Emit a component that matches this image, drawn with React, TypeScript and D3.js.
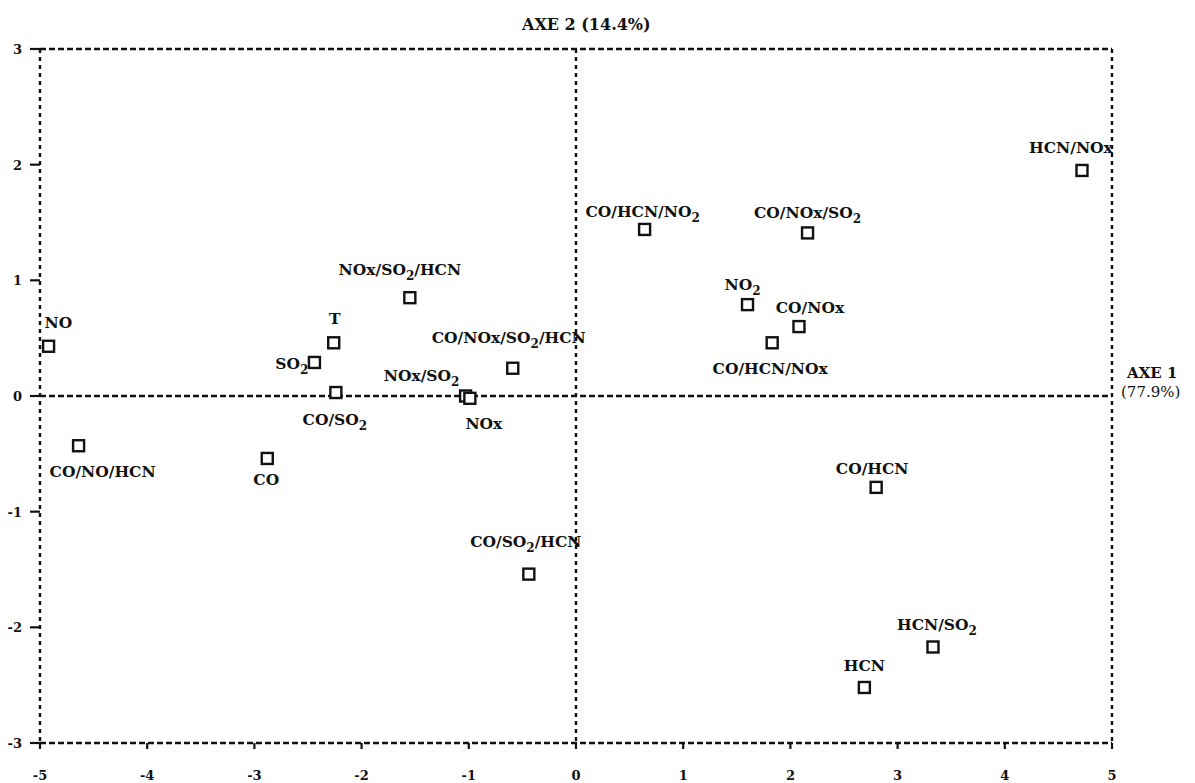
import React from "react";
import * as d3 from "d3";

// ---- data ----
const names: string[] = [
  "NO", "CO/NO/HCN", "CO", "T", "SO_2", "CO/SO_2", "NOx/SO_2/HCN", "NOx/SO_2", "NOx",
  "CO/NOx/SO_2/HCN", "CO/SO_2/HCN", "CO/HCN/NO_2", "CO/NOx/SO_2", "NO_2", "CO/NOx",
  "CO/HCN/NOx", "HCN/NOx", "CO/HCN", "HCN/SO_2", "HCN",
];
const axe1: number[] = [
  -4.92, -4.64, -2.88, -2.26, -2.44, -2.24, -1.55, -1.03, -0.99,
  -0.59, -0.44, 0.64, 2.16, 1.6, 2.08,
  1.83, 4.72, 2.8, 3.33, 2.69,
];
const axe2: number[] = [
  0.43, -0.43, -0.54, 0.46, 0.29, 0.03, 0.85, 0.0, -0.02,
  0.24, -1.54, 1.44, 1.41, 0.79, 0.6,
  0.46, 1.95, -0.79, -2.17, -2.52,
];
const xTickValues: number[] = [-5, -4, -3, -2, -1, 0, 1, 2, 3, 4, 5];
const yTickValues: number[] = [-3, -2, -1, 0, 1, 2, 3];
const xTitle = ["AXE 1", "(77.9%)"];
const yTitle = "AXE 2 (14.4%)";

// ---- label layout (pixel offsets from the marker, anchor) ----
const labelLayout: [number, number, string][] = [
  [-4, -18, "start"], [24, 31, "middle"], [-1, 27, "middle"], [1, -19, "middle"], [-6, 7, "end"],
  [-1, 32, "middle"], [-10, -23, "middle"], [-44, -15, "middle"], [14, 31, "middle"],
  [-4, -25, "middle"], [-3, -27, "middle"], [-2, -12, "middle"], [0, -15, "middle"], [-5, -15, "middle"], [11, -14, "middle"],
  [-2, 31, "middle"], [-11, -17, "middle"], [-4, -13, "middle"], [4, -17, "middle"], [0, -16, "middle"],
];

const W = 1195;
const H = 783;
const FONT = "'DejaVu Serif', serif";

function Label({ text, x, y, anchor }: { text: string; x: number; y: number; anchor: string }) {
  const parts = text.split(/_(\d)/);
  const nodes: React.ReactNode[] = [];
  let shifted = false;
  parts.forEach((p, i) => {
    if (p === "") return;
    if (i % 2 === 1) {
      nodes.push(
        <tspan key={i} dy={5} fontSize={12}>
          {p}
        </tspan>
      );
      shifted = true;
    } else {
      nodes.push(
        <tspan key={i} dy={shifted ? -5 : 0}>
          {p}
        </tspan>
      );
      shifted = false;
    }
  });
  return (
    <text x={x} y={y} textAnchor={anchor} fontFamily={FONT} fontWeight="bold" fontSize={15.5} fill="#111">
      {nodes}
    </text>
  );
}

export default function App() {
  const x = d3.scaleLinear().domain([-5, 5]).range([40, 1112]);
  const y = d3.scaleLinear().domain([-3, 3]).range([743, 49]);
  const sq = 11;

  return (
    <svg width={W} height={H} style={{ position: "absolute", left: 0, top: 0, background: "#fff" }}>
      <rect width={W} height={H} fill="#fff" />
      {/* frame */}
      <g stroke="#111" strokeWidth={2.4} fill="none">
        <line x1={x(-5)} x2={x(5)} y1={y(3)} y2={y(3)} strokeDasharray="6,3" />
        <line x1={x(-5)} x2={x(5)} y1={y(-3)} y2={y(-3)} strokeDasharray="6,3" />
        <line x1={x(-5)} x2={x(5)} y1={y(0)} y2={y(0)} strokeDasharray="6,3" />
        <line x1={x(-5)} x2={x(-5)} y1={y(3)} y2={y(-3)} strokeDasharray="4,4" />
        <line x1={x(5)} x2={x(5)} y1={y(3)} y2={y(-3)} strokeDasharray="4,4" />
        <line x1={x(0)} x2={x(0)} y1={y(3)} y2={y(-3)} strokeDasharray="4,4" />
      </g>
      {/* x ticks */}
      <g>
        {xTickValues.map((t) => (
          <g key={t}>
            <line x1={x(t)} x2={x(t)} y1={y(-3)} y2={y(-3) + 6} stroke="#111" strokeWidth={2.2} />
            <text x={x(t)} y={780} textAnchor="middle" fontFamily={FONT} fontWeight="bold" fontSize={13} fill="#111">
              {t}
            </text>
          </g>
        ))}
      </g>
      {/* y ticks */}
      <g>
        {yTickValues.map((t) => (
          <g key={t}>
            <line x1={x(-5) - 10} x2={x(-5)} y1={y(t)} y2={y(t)} stroke="#111" strokeWidth={2.2} />
            <text x={22} y={y(t) + 5} textAnchor="end" fontFamily={FONT} fontWeight="bold" fontSize={13} fill="#111">
              {t}
            </text>
          </g>
        ))}
      </g>
      {/* axis titles */}
      <text x={522} y={30} fontFamily={FONT} fontWeight="bold" fontSize={16} fill="#111">
        {yTitle}
      </text>
      <text x={1127} y={378} fontFamily={FONT} fontWeight="bold" fontSize={15} fill="#111">
        {xTitle[0]}
      </text>
      <text x={1121} y={397} fontFamily={FONT} fontSize={15} fill="#111">
        {xTitle[1]}
      </text>
      {/* points */}
      <g>
        {names.map((n, i) => {
          const px = x(axe1[i]);
          const py = y(axe2[i]);
          const [dx, dy, anchor] = labelLayout[i];
          return (
            <g key={n}>
              <rect x={px - sq / 2} y={py - sq / 2} width={sq} height={sq} fill="#fff" stroke="#111" strokeWidth={2.4} />
              <Label text={n} x={px + dx} y={py + dy} anchor={anchor} />
            </g>
          );
        })}
      </g>
    </svg>
  );
}
